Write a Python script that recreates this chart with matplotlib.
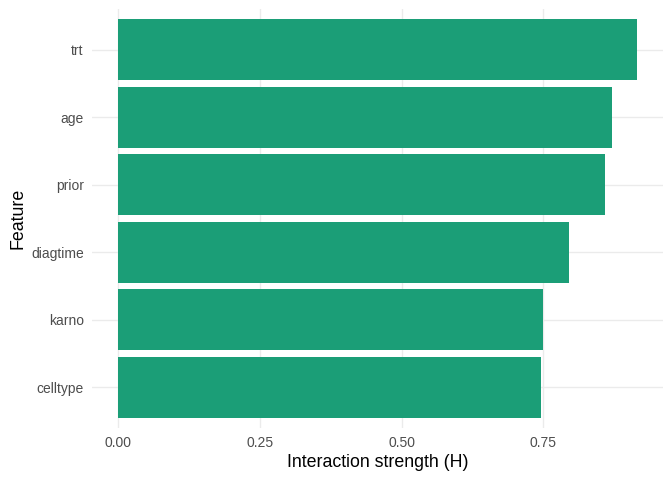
import matplotlib.pyplot as plt

# Interaction strength per feature
features = ["celltype", "karno", "diagtime", "prior", "age", "trt"]
strength = [0.746, 0.749, 0.795, 0.859, 0.871, 0.915]
x_ticks = [0.0, 0.25, 0.5, 0.75]
x_tick_labels = ["0.00", "0.25", "0.50", "0.75"]

plt.rcParams["font.family"] = ["Liberation Sans", "DejaVu Sans"]

fig = plt.figure(figsize=(6.72, 4.8), dpi=100)
ax = fig.add_axes([0.137, 0.109, 0.8496, 0.872])

pos = range(1, len(features) + 1)
ax.barh(pos, strength, height=0.9, color="#1B9E77", zorder=3)

# ggplot-like expansion
xmax = max(strength)
ax.set_xlim(-0.05 * xmax, 1.05 * xmax)
ax.set_ylim(0.4, len(features) + 0.6)

ax.set_xticks(x_ticks)
ax.set_xticklabels(x_tick_labels)
ax.set_yticks(list(pos))
ax.set_yticklabels(features)

ax.grid(which="major", color="#EBEBEB", linewidth=1.0, zorder=0)
for s in ax.spines.values():
    s.set_visible(False)
ax.tick_params(which="both", length=0)
ax.tick_params(axis="both", labelsize=10, labelcolor="#4D4D4D")
ax.tick_params(axis="y", pad=6)
ax.tick_params(axis="x", pad=6)

ax.set_xlabel("Interaction strength (H)", fontsize=12.8, color="black", labelpad=3)
ax.set_ylabel("Feature", fontsize=12.8, color="black", labelpad=3)

fig.savefig("out.png", dpi=100)
